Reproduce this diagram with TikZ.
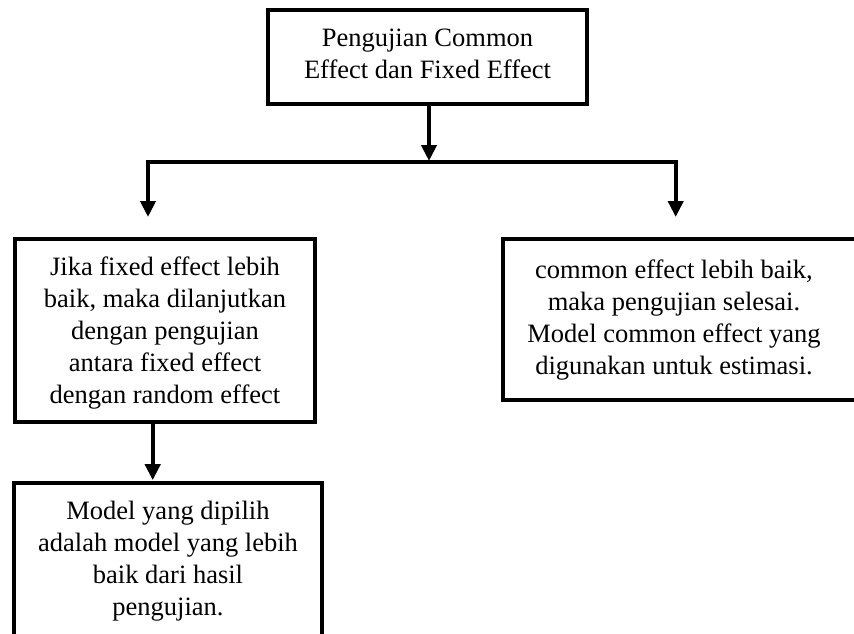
\documentclass[tikz,border=0pt]{standalone}
\usepackage{fontspec}
\setmainfont{Liberation Serif}
\usetikzlibrary{arrows.meta}
\begin{document}
\begin{tikzpicture}[x=1pt,y=-1pt,
  boxnode/.style={draw=black,line width=4pt,rectangle,inner sep=0pt,outer sep=0pt},
  txt/.style={align=center,inner sep=0pt,font=\fontsize{26.5}{32}\selectfont},
  conn/.style={line width=4pt,-{Triangle[length=16pt,width=15pt]}},
  conn2/.style={line width=4pt,{Triangle[length=16pt,width=15pt]}-{Triangle[length=16pt,width=15pt]}}]
\useasboundingbox (0,0) rectangle (854,634);
\clip (0,0) rectangle (854,634);
\fill[white] (0,0) rectangle (854,634);
% boxes
\node[boxnode,minimum width=319pt,minimum height=94pt] (top) at (427.5,57) {};
\node[boxnode,minimum width=300.6pt,minimum height=183.3pt] (lbox) at (165,330.35) {};
\node[boxnode,minimum width=367pt,minimum height=160.4pt] (rbox) at (686.2,319.5) {};
\node[boxnode,minimum width=308pt,minimum height=177pt] (bbox) at (168,571.2) {};
% texts
\node[txt] (ttop) at (427.5,54) {Pengujian Common\\Effect dan Fixed Effect};
\node[txt] (tl) at (165,332.8) {Jika fixed effect lebih\\baik, maka dilanjutkan\\dengan pengujian\\antara fixed effect\\dengan random effect};
\node[txt] (tr) at (674,320) {common effect lebih baik,\\maka pengujian selesai.\\Model common effect yang\\digunakan untuk estimasi.};
\node[txt] (tb) at (168,561.3) {Model yang dipilih\\adalah model yang lebih\\baik dari hasil\\pengujian.};
% connector coordinates
\coordinate (jc) at (429,161);
\coordinate (jl) at (148,162);
\coordinate (jr) at (675.7,162);
\coordinate (al) at (148,217);
\coordinate (ar) at (675.7,217);
\coordinate (ax) at (152.7,0);
% connectors
\draw[conn] (top.south -| jc) -- (jc);
\draw[conn2] (al) -- (jl) -- (jr) -- (ar);
\draw[conn,shorten >=2.5pt] (lbox.south -| ax) -- (bbox.north -| ax);
\end{tikzpicture}
\end{document}
